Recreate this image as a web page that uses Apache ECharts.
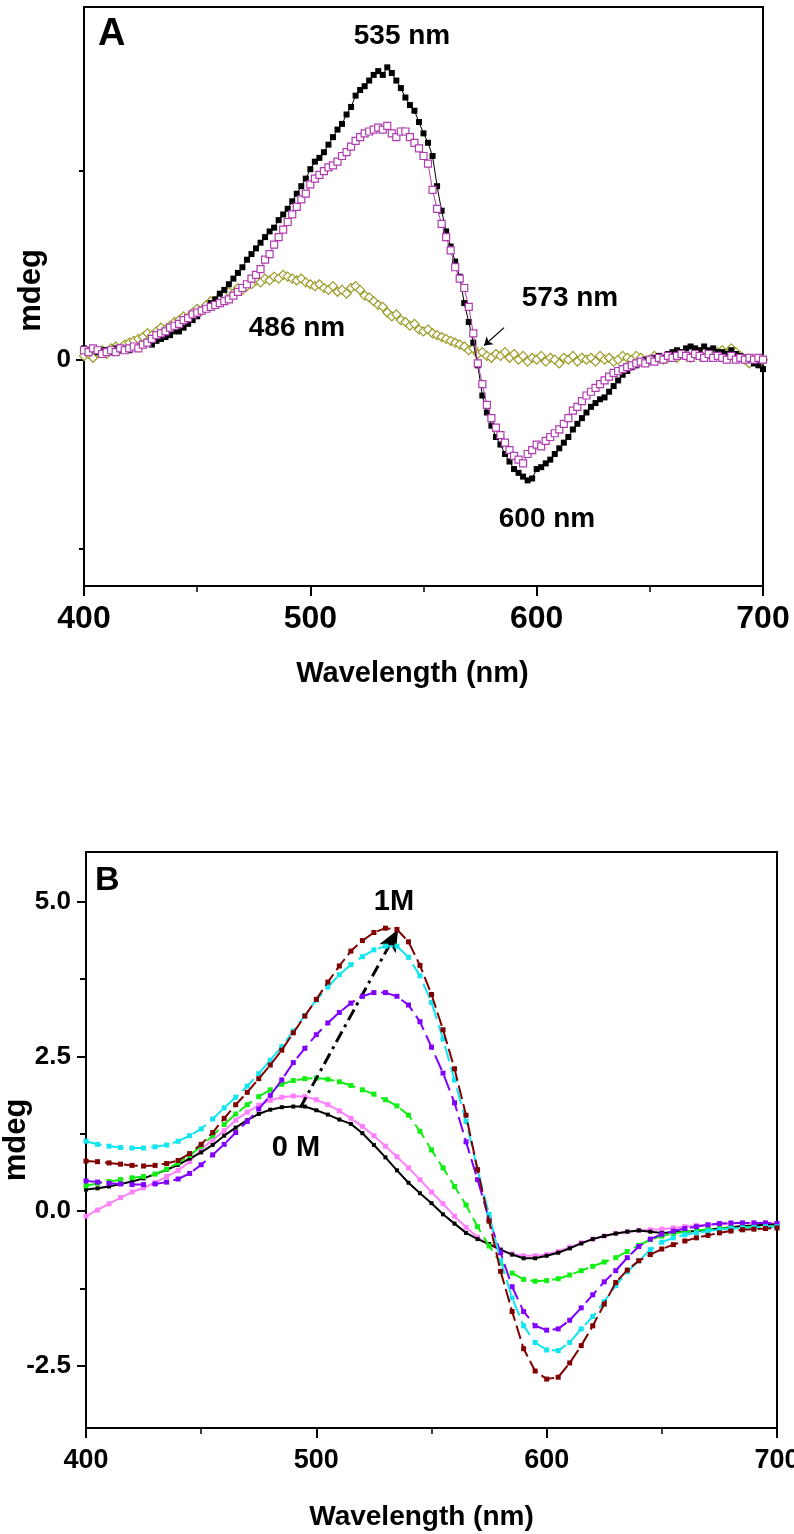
<!DOCTYPE html>
<html><head><meta charset="utf-8">
<script src="https://cdn.jsdelivr.net/npm/echarts@6/dist/echarts.min.js"></script>
<style>html,body{margin:0;padding:0;background:#fff}#c{width:794px;height:1534px}</style>
</head><body><div id="c"></div>
<script>
// ---------- Panel A (step 2 nm from 400 to 700) ----------
const wlStartA = 400, wlStepA = 2;
const blackA = [0.06,0.05,0.06,0.04,0.05,0.05,0.04,0.06,0.05,0.06,0.05,
0.07,0.06,0.08,0.09,0.08,0.10,0.11,0.12,0.13,0.15,
0.15,0.17,0.19,0.21,0.23,0.26,0.27,0.30,0.32,0.35,
0.37,0.40,0.43,0.46,0.49,0.53,0.56,0.59,0.62,0.65,
0.68,0.70,0.74,0.77,0.80,0.84,0.88,0.92,0.96,1.01,
1.05,1.07,1.10,1.14,1.18,1.22,1.25,1.30,1.34,1.40,
1.43,1.45,1.48,1.51,1.53,1.51,1.55,1.52,1.48,1.44,
1.39,1.35,1.32,1.26,1.20,1.15,1.08,0.92,0.79,0.68,
0.60,0.52,0.44,0.30,0.20,0.09,-0.03,-0.19,-0.28,-0.35,
-0.41,-0.45,-0.50,-0.54,-0.58,-0.60,-0.62,-0.64,-0.63,-0.58,
-0.57,-0.55,-0.53,-0.50,-0.47,-0.44,-0.41,-0.37,-0.34,-0.31,
-0.28,-0.25,-0.23,-0.21,-0.20,-0.17,-0.14,-0.11,-0.08,-0.06,
-0.04,-0.03,-0.01,0.00,-0.01,0.01,0.02,0.01,0.03,0.04,
0.05,0.04,0.06,0.07,0.06,0.05,0.07,0.05,0.06,0.04,
0.04,0.03,0.05,0.03,0.02,0.01,0.00,-0.02,-0.03,-0.05];
const pinkA = [0.05,0.04,0.06,0.05,0.03,0.04,0.05,0.04,0.06,0.05,0.06,
0.07,0.06,0.08,0.09,0.11,0.13,0.14,0.15,0.17,0.18,
0.19,0.21,0.22,0.24,0.25,0.26,0.27,0.28,0.29,0.30,
0.31,0.32,0.34,0.36,0.38,0.40,0.43,0.45,0.48,0.53,
0.56,0.61,0.65,0.69,0.73,0.77,0.81,0.85,0.88,0.93,
0.96,0.98,1.00,1.02,1.03,1.05,1.08,1.10,1.13,1.16,
1.18,1.20,1.21,1.22,1.23,1.22,1.24,1.20,1.18,1.21,
1.21,1.18,1.15,1.12,1.08,1.04,0.90,0.80,0.72,0.65,
0.58,0.49,0.43,0.38,0.28,0.14,-0.02,-0.13,-0.24,-0.31,
-0.36,-0.40,-0.44,-0.48,-0.51,-0.53,-0.55,-0.50,-0.48,-0.45,
-0.46,-0.43,-0.41,-0.39,-0.37,-0.34,-0.31,-0.27,-0.25,-0.22,
-0.19,-0.17,-0.15,-0.13,-0.11,-0.09,-0.07,-0.06,-0.05,-0.04,
-0.03,-0.02,-0.01,-0.02,0.00,-0.01,0.01,0.00,0.02,0.01,
0.02,0.03,0.02,0.01,0.03,0.02,0.01,0.03,0.01,0.02,
0.01,0.00,0.02,0.00,0.01,0.00,0.01,0.00,0.01,0.00];
const oliveA = [0.02,0.03,0.01,0.04,0.05,0.03,0.06,0.07,0.06,0.08,0.09,
0.10,0.11,0.12,0.14,0.13,0.15,0.17,0.16,0.18,0.20,
0.21,0.23,0.22,0.25,0.27,0.26,0.29,0.31,0.30,0.33,
0.34,0.36,0.35,0.38,0.37,0.39,0.40,0.42,0.41,0.43,
0.42,0.44,0.43,0.45,0.44,0.43,0.42,0.43,0.41,0.40,
0.39,0.40,0.38,0.37,0.39,0.36,0.37,0.35,0.38,0.39,
0.37,0.34,0.33,0.31,0.29,0.28,0.25,0.23,0.24,0.21,
0.20,0.18,0.19,0.16,0.15,0.16,0.14,0.13,0.12,0.11,
0.10,0.09,0.08,0.07,0.05,0.06,0.03,0.04,0.02,0.01,
0.03,0.02,0.04,0.01,0.03,0.00,0.02,-0.01,0.01,0.00,
0.02,-0.01,0.01,0.00,-0.02,0.01,0.00,0.02,-0.01,0.01,
0.00,0.01,-0.01,0.02,0.00,0.01,-0.01,0.00,0.02,0.01,
0.00,0.02,0.01,-0.01,0.00,0.02,0.01,0.00,0.01,0.02,
0.01,0.03,0.02,0.01,0.03,0.02,0.04,0.03,0.02,0.04,
0.05,0.03,0.06,0.04,0.02,0.00,-0.02,0.00,-0.01,0.00];
const arrowA = [[585.6, 0.17], [576.8, 0.075]];

// ---------- Panel B (step 5 nm from 400 to 700) ----------
const wlStartB = 400, wlStepB = 5;
const blackB = [0.35,0.37,0.40,0.44,0.48,0.53,0.60,0.67,0.75,0.85,
0.95,1.07,1.22,1.35,1.47,1.57,1.64,1.68,1.69,1.69,
1.63,1.56,1.48,1.41,1.26,1.07,0.87,0.66,0.46,0.29,
0.13,-0.05,-0.20,-0.35,-0.45,-0.53,-0.62,-0.70,-0.76,-0.76,
-0.72,-0.67,-0.60,-0.52,-0.45,-0.40,-0.36,-0.33,-0.31,-0.33,
-0.35,-0.34,-0.33,-0.32,-0.30,-0.28,-0.26,-0.24,-0.23,-0.22,-0.21];
const pinkB = [-0.08,0.02,0.12,0.22,0.31,0.38,0.46,0.56,0.66,0.80,
1.00,1.15,1.30,1.47,1.60,1.71,1.79,1.84,1.86,1.85,
1.80,1.72,1.62,1.50,1.37,1.22,1.05,0.88,0.70,0.51,
0.31,0.12,-0.08,-0.26,-0.42,-0.54,-0.63,-0.69,-0.72,-0.72,
-0.70,-0.65,-0.58,-0.51,-0.45,-0.40,-0.36,-0.33,-0.31,-0.30,
-0.29,-0.27,-0.25,-0.23,-0.22,-0.21,-0.20,-0.19,-0.19,-0.19,-0.20];
const greenB = [0.41,0.45,0.48,0.51,0.54,0.56,0.60,0.68,0.78,0.90,
1.05,1.22,1.40,1.57,1.72,1.85,1.96,2.05,2.11,2.14,
2.15,2.13,2.09,2.03,1.96,1.89,1.80,1.70,1.55,1.29,
0.99,0.70,0.40,0.10,-0.25,-0.56,-0.83,-1.00,-1.10,-1.13,
-1.12,-1.09,-1.03,-0.96,-0.89,-0.82,-0.75,-0.65,-0.55,-0.46,
-0.40,-0.36,-0.33,-0.31,-0.29,-0.28,-0.27,-0.26,-0.25,-0.25,-0.25];
const purpleB = [0.49,0.47,0.45,0.44,0.43,0.43,0.44,0.47,0.52,0.61,
0.75,0.91,1.08,1.27,1.45,1.65,1.87,2.12,2.40,2.63,
2.85,3.04,3.21,3.36,3.47,3.53,3.53,3.47,3.33,3.06,
2.65,2.23,1.75,1.12,0.51,-0.13,-0.67,-1.22,-1.62,-1.85,
-1.92,-1.90,-1.76,-1.56,-1.35,-1.14,-0.96,-0.75,-0.57,-0.45,
-0.37,-0.32,-0.28,-0.25,-0.22,-0.20,-0.19,-0.19,-0.19,-0.19,-0.20];
const cyanB = [1.13,1.08,1.05,1.03,1.02,1.02,1.04,1.07,1.13,1.22,
1.33,1.49,1.67,1.84,2.02,2.22,2.44,2.66,2.91,3.16,
3.41,3.62,3.82,3.98,4.11,4.22,4.28,4.28,4.10,3.80,
3.37,2.78,2.12,1.45,0.67,-0.05,-0.80,-1.40,-1.85,-2.12,
-2.24,-2.25,-2.12,-1.90,-1.70,-1.46,-1.20,-0.98,-0.80,-0.62,
-0.50,-0.43,-0.38,-0.35,-0.32,-0.30,-0.28,-0.27,-0.26,-0.25,-0.25];
const brownB = [0.81,0.80,0.78,0.76,0.74,0.73,0.74,0.77,0.82,0.93,
1.08,1.27,1.50,1.72,1.92,2.14,2.36,2.60,2.88,3.15,
3.42,3.70,3.96,4.20,4.37,4.50,4.57,4.55,4.35,3.97,
3.50,2.93,2.30,1.55,0.67,-0.16,-0.97,-1.62,-2.22,-2.58,
-2.71,-2.68,-2.45,-2.17,-1.85,-1.50,-1.15,-0.95,-0.80,-0.70,
-0.61,-0.54,-0.48,-0.43,-0.39,-0.35,-0.32,-0.30,-0.29,-0.28,-0.27];
const arrowB = [[493, 1.67], [535.5, 4.55]];

const yTicksA = [0], yMinorA = [-1, 1];
const yTicksB = [-2.5, 0, 2.5, 5.0], yMinorB = [-1.25, 1.25, 3.75];

function pairs(start, step, arr) { return arr.map((v, i) => [start + i * step, v]); }

const SANS = '"Liberation Sans",Arial,sans-serif';

const chart = echarts.init(document.getElementById('c'), null, {renderer: 'canvas'});

function xAxisCfg(gi, labelSize, labelMargin, nameSize, nameGap, namePadR) {
  return {
    gridIndex: gi, type: 'value', min: 400, max: 700, interval: 100, position: 'bottom',
    axisLine: {show: true, onZero: false, lineStyle: {color: '#000', width: 2}},
    axisTick: {show: true, inside: false, length: 10, lineStyle: {color: '#000', width: 2}},
    minorTick: {show: true, splitNumber: 2, length: 6, lineStyle: {color: '#000', width: 1.5}},
    axisLabel: {color: '#000', fontFamily: SANS, fontWeight: 'bold', fontSize: labelSize, margin: labelMargin},
    splitLine: {show: false}, minorSplitLine: {show: false},
    name: 'Wavelength (nm)', nameLocation: 'middle', nameGap: nameGap, nameMoveOverlap: false,
    nameTextStyle: {color: '#000', fontFamily: SANS, fontWeight: 'bold', fontSize: nameSize, padding: [0, namePadR, 0, 0]}
  };
}

const option = {
  animation: false,
  backgroundColor: '#fff',
  grid: [
    {left: 84, top: 7, width: 679, height: 579, show: true, borderColor: '#000', borderWidth: 2,
     containLabel: false, outerBoundsMode: 'none'},
    {left: 86, top: 852, width: 691, height: 576, show: true, borderColor: '#000', borderWidth: 2,
     containLabel: false, outerBoundsMode: 'none'}
  ],
  xAxis: [
    xAxisCfg(0, 32, 17, 29, 73, 22),
    xAxisCfg(1, 27, 19, 28, 75, 20)
  ],
  yAxis: [
    {gridIndex: 0, type: 'value', min: -1.2, max: 1.87, position: 'left',
     axisLine: {show: true, onZero: false, lineStyle: {color: '#000', width: 2}},
     axisTick: {show: true, length: 8, customValues: yTicksA, lineStyle: {color: '#000', width: 2}},
     axisLabel: {customValues: yTicksA, color: '#000', fontFamily: SANS, fontWeight: 'bold', fontSize: 26, margin: 13},
     splitLine: {show: false},
     name: 'mdeg', nameLocation: 'middle', nameGap: 37, nameMoveOverlap: false,
     nameTextStyle: {color: '#000', fontFamily: SANS, fontWeight: 'bold', fontSize: 31, padding: [0, 0, 0, 12]}},
    {gridIndex: 0, type: 'value', min: -1.2, max: 1.87, position: 'left',
     axisLine: {show: false},
     axisTick: {show: true, length: 5, customValues: yMinorA, lineStyle: {color: '#000', width: 2}},
     axisLabel: {show: false}, splitLine: {show: false}},
    {gridIndex: 1, type: 'value', min: -3.5, max: 5.8, position: 'left',
     axisLine: {show: true, onZero: false, lineStyle: {color: '#000', width: 2}},
     axisTick: {show: true, length: 9, customValues: yTicksB, lineStyle: {color: '#000', width: 2}},
     axisLabel: {customValues: yTicksB, color: '#000', fontFamily: SANS, fontWeight: 'bold', fontSize: 26, margin: 15,
                 formatter: v => Number(v).toFixed(1)},
     splitLine: {show: false},
     name: 'mdeg', nameLocation: 'middle', nameGap: 54, nameMoveOverlap: false,
     nameTextStyle: {color: '#000', fontFamily: SANS, fontWeight: 'bold', fontSize: 31}},
    {gridIndex: 1, type: 'value', min: -3.5, max: 5.8, position: 'left',
     axisLine: {show: false},
     axisTick: {show: true, length: 6, customValues: yMinorB, lineStyle: {color: '#000', width: 2}},
     axisLabel: {show: false}, splitLine: {show: false}}
  ],
  series: [
    // Panel A
    {type: 'line', xAxisIndex: 0, yAxisIndex: 0, data: pairs(wlStartA, wlStepA, oliveA),
     symbol: 'diamond', symbolSize: 9, showAllSymbol: true,
     itemStyle: {color: '#fff', borderColor: '#9c9c28', borderWidth: 1.2},
     lineStyle: {color: '#9c9c28', width: 1}, z: 2},
    {type: 'line', xAxisIndex: 0, yAxisIndex: 0, data: pairs(wlStartA, wlStepA, blackA),
     symbol: 'rect', symbolSize: 6, showAllSymbol: true,
     itemStyle: {color: '#000', borderColor: '#000', borderWidth: 0},
     lineStyle: {color: '#000', width: 1}, z: 3,
     markLine: {silent: true, symbol: ['none', 'arrow'], symbolSize: 8, animation: false,
       lineStyle: {color: '#000', width: 1.2, type: 'solid'}, label: {show: false},
       data: [[{coord: arrowA[0]}, {coord: arrowA[1]}]]}},
    {type: 'line', xAxisIndex: 0, yAxisIndex: 0, data: pairs(wlStartA, wlStepA, pinkA),
     symbol: 'rect', symbolSize: 7, showAllSymbol: true,
     itemStyle: {color: '#fff', borderColor: '#b03cb0', borderWidth: 1.2},
     lineStyle: {color: '#b03cb0', width: 1}, z: 4},
    // Panel B
    {type: 'line', xAxisIndex: 1, yAxisIndex: 2, data: pairs(wlStartB, wlStepB, pinkB),
     symbol: 'rect', symbolSize: 5, showAllSymbol: true,
     itemStyle: {color: '#ff80ff'}, lineStyle: {color: '#ff80ff', width: 2}, z: 2},
    {type: 'line', xAxisIndex: 1, yAxisIndex: 2, data: pairs(wlStartB, wlStepB, blackB),
     symbol: 'rect', symbolSize: 4, showAllSymbol: true,
     itemStyle: {color: '#000'}, lineStyle: {color: '#000', width: 2}, z: 3,
     markLine: {silent: true, symbol: ['none', 'arrow'], symbolSize: [14, 22], animation: false,
       lineStyle: {color: '#000', width: 3, type: [12, 5, 3, 5]}, label: {show: false},
       data: [[{coord: arrowB[0]}, {coord: arrowB[1]}]]}},
    {type: 'line', xAxisIndex: 1, yAxisIndex: 2, data: pairs(wlStartB, wlStepB, greenB),
     symbol: 'rect', symbolSize: 5, showAllSymbol: true,
     itemStyle: {color: '#11ee11'}, lineStyle: {color: '#11ee11', width: 2, type: [16, 6]}, z: 4},
    {type: 'line', xAxisIndex: 1, yAxisIndex: 2, data: pairs(wlStartB, wlStepB, purpleB),
     symbol: 'rect', symbolSize: 5, showAllSymbol: true,
     itemStyle: {color: '#8000ff'}, lineStyle: {color: '#8000ff', width: 2, type: [16, 6]}, z: 5},
    {type: 'line', xAxisIndex: 1, yAxisIndex: 2, data: pairs(wlStartB, wlStepB, cyanB),
     symbol: 'rect', symbolSize: 5, showAllSymbol: true,
     itemStyle: {color: '#11e5f0'}, lineStyle: {color: '#11e5f0', width: 2, type: [16, 6]}, z: 6},
    {type: 'line', xAxisIndex: 1, yAxisIndex: 2, data: pairs(wlStartB, wlStepB, brownB),
     symbol: 'rect', symbolSize: 5, showAllSymbol: true,
     itemStyle: {color: '#800000'}, lineStyle: {color: '#800000', width: 2, type: [14, 5]}, z: 7}
  ],
  graphic: [
    {type: 'text', x: 98, y: 35, style: {text: 'A', font: 'bold 38px ' + SANS, fill: '#000', align: 'left', verticalAlign: 'middle'}},
    {type: 'text', x: 402, y: 36, style: {text: '535 nm', font: 'bold 28px ' + SANS, fill: '#000', align: 'center', verticalAlign: 'middle'}},
    {type: 'text', x: 297, y: 328, style: {text: '486 nm', font: 'bold 28px ' + SANS, fill: '#000', align: 'center', verticalAlign: 'middle'}},
    {type: 'text', x: 570, y: 298, style: {text: '573 nm', font: 'bold 28px ' + SANS, fill: '#000', align: 'center', verticalAlign: 'middle'}},
    {type: 'text', x: 547, y: 519, style: {text: '600 nm', font: 'bold 28px ' + SANS, fill: '#000', align: 'center', verticalAlign: 'middle'}},
    {type: 'text', x: 95, y: 881, style: {text: 'B', font: 'bold 34px ' + SANS, fill: '#000', align: 'left', verticalAlign: 'middle'}},
    {type: 'text', x: 394, y: 902, style: {text: '1M', font: 'bold 29px ' + SANS, fill: '#000', align: 'center', verticalAlign: 'middle'}},
    {type: 'text', x: 296, y: 1148, style: {text: '0 M', font: 'bold 29px ' + SANS, fill: '#000', align: 'center', verticalAlign: 'middle'}}
  ]
};
chart.setOption(option);
</script>
</body></html>
